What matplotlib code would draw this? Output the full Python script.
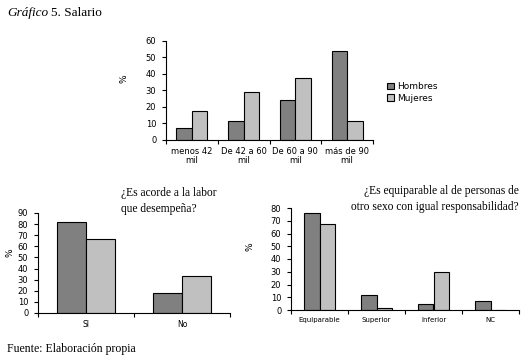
import numpy as np
import matplotlib
matplotlib.use("Agg")
import matplotlib.pyplot as plt

# data
salario_cats = ["menos 42\nmil", "De 42 a 60\nmil", "De 60 a 90\nmil", "más de 90\nmil"]
salario_h = [7, 11.5, 24, 54]
salario_m = [17.5, 29, 37.5, 11.5]

labor_cats = ["SI", "No"]
labor_h = [82, 18]
labor_m = [66.5, 33]

equip_cats = ["Equiparable", "Superior", "Inferior", "NC"]
equip_h = [76, 12, 5, 7]
equip_m = [67.5, 1.5, 30, 0]

dark = "#808080"
light = "#c0c0c0"
W, H = 524, 358


def px_axes(fig, x0, y0, x1, y1):
    return fig.add_axes([x0 / W, 1 - y1 / H, (x1 - x0) / W, (y1 - y0) / H])


def bars(ax, cats, h, m, ymax, step, fs, lab_xy, bw=0.3):
    n = len(cats)
    x = np.arange(n)
    ax.bar(x - bw / 2, h, bw, color=dark, edgecolor="black", linewidth=0.8, label="Hombres")
    ax.bar(x + bw / 2, m, bw, color=light, edgecolor="black", linewidth=0.8, label="Mujeres")
    ax.set_xlim(-0.5, n - 0.5)
    ax.set_ylim(0, ymax)
    ax.set_yticks(np.arange(0, ymax + 1, step))
    ax.set_xticks(np.arange(n + 1) - 0.5)
    ax.set_xticklabels([])
    ax.set_xticks(x, minor=True)
    ax.set_xticklabels(cats, minor=True, fontsize=fs, linespacing=0.95)
    ax.tick_params(axis="x", which="minor", length=0, pad=5)
    ax.tick_params(axis="x", which="major", length=3, width=0.8)
    ax.tick_params(axis="y", length=3, width=0.8, labelsize=6, pad=4)
    for s in ["top", "right"]:
        ax.spines[s].set_visible(False)
    for s in ["left", "bottom"]:
        ax.spines[s].set_linewidth(0.8)
    ax.set_ylabel("%", fontsize=6.5, rotation=90)
    ax.yaxis.set_label_coords(*lab_xy)


fig = plt.figure(figsize=(W / 100, H / 100), dpi=100)
serif = "Liberation Serif"

fig.text(7 / W, 1 - 13 / H, "Gráfico", fontstyle="italic", family=serif, fontsize=9.5, va="center")
fig.text(51 / W, 1 - 13 / H, "5. Salario", family=serif, fontsize=9.5, va="center")

ax1 = px_axes(fig, 166, 41, 373, 140)
bars(ax1, salario_cats, salario_h, salario_m, 60, 10, 6, (-0.18, 0.62))
ax1.legend(loc="center left", bbox_to_anchor=(1.03, 0.48), frameon=False, fontsize=6.5,
           handlelength=0.7, handleheight=0.7, handletextpad=0.4, labelspacing=0.25)

ax2 = px_axes(fig, 38, 213, 230, 313)
bars(ax2, labor_cats, labor_h, labor_m, 90, 10, 5.5, (-0.12, 0.6))
fig.text(121 / W, 1 - 187 / H, "¿Es acorde a la labor\nque desempeña?", family=serif,
         fontsize=8.3, va="top", linespacing=1.45)

ax3 = px_axes(fig, 291, 208, 519, 310)
bars(ax3, equip_cats, equip_h, equip_m, 80, 10, 5, (-0.16, 0.62), bw=0.28)
fig.text(519 / W, 1 - 185 / H, "¿Es equiparable al de personas de\notro sexo con igual responsabilidad?",
         family=serif, fontsize=8.3, va="top", ha="right", multialignment="right", linespacing=1.45)

fig.text(7 / W, 1 - 349 / H, "Fuente: Elaboración propia", family=serif, fontsize=8.5, va="center")

fig.savefig("out.png", dpi=100)
